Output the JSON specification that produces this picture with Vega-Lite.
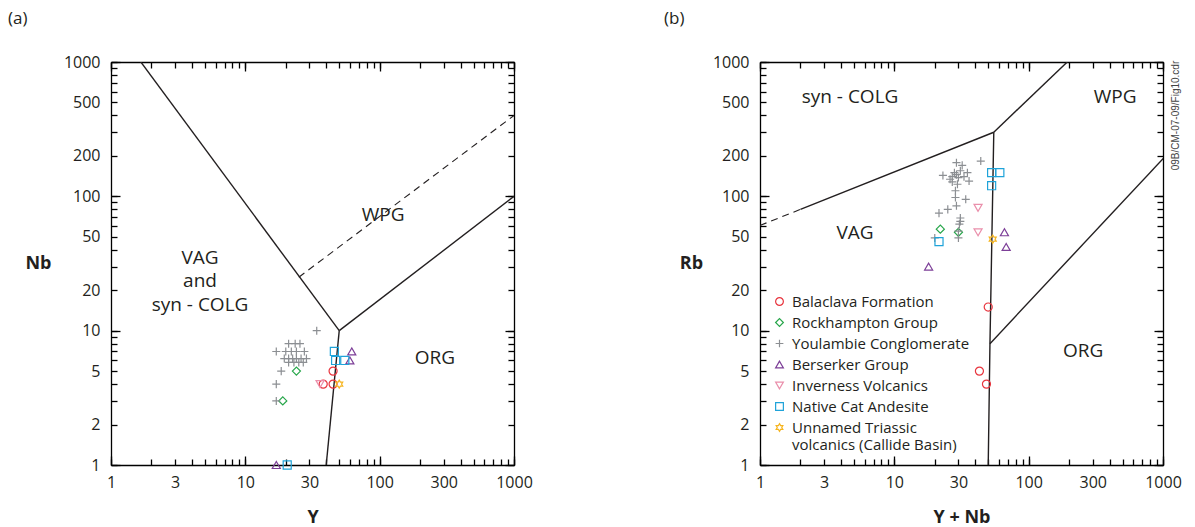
{
  "$schema": "https://vega.github.io/schema/vega-lite/v6.json",
  "background": "white",
  "padding": {"left": 8, "top": 10, "right": 0, "bottom": 0},
  "spacing": 131,
  "datasets": {
    "linesA": [
      {"seg": "a1", "x": 1, "y": 2000}, {"seg": "a1", "x": 50, "y": 10},
      {"seg": "a2", "x": 50, "y": 10}, {"seg": "a2", "x": 1000, "y": 100},
      {"seg": "a3", "x": 40, "y": 1}, {"seg": "a3", "x": 50, "y": 10}
    ],
    "dashA": [{"seg": "d", "x": 25, "y": 25}, {"seg": "d", "x": 1000, "y": 400}],
    "linesB": [
      {"seg": "b1", "x": 2, "y": 80}, {"seg": "b1", "x": 55, "y": 300},
      {"seg": "b2", "x": 55, "y": 300}, {"seg": "b2", "x": 400, "y": 2000},
      {"seg": "b3", "x": 50, "y": 1}, {"seg": "b3", "x": 51.5, "y": 8}, {"seg": "b3", "x": 55, "y": 300},
      {"seg": "b4", "x": 51.5, "y": 8}, {"seg": "b4", "x": 2000, "y": 400}
    ],
    "dashB": [{"seg": "d", "x": 1, "y": 60.7}, {"seg": "d", "x": 2, "y": 80}],
    "ptsA": [
      {"group": "Balaclava Formation", "x": 45, "y": 5},
      {"group": "Balaclava Formation", "x": 45, "y": 4},
      {"group": "Balaclava Formation", "x": 38, "y": 4},
      {"group": "Rockhampton Group", "x": 24, "y": 5},
      {"group": "Rockhampton Group", "x": 19, "y": 3},
      {"group": "Youlambie Conglomerate", "x": 34, "y": 10},
      {"group": "Youlambie Conglomerate", "x": 21, "y": 8},
      {"group": "Youlambie Conglomerate", "x": 23.5, "y": 8},
      {"group": "Youlambie Conglomerate", "x": 25.5, "y": 8},
      {"group": "Youlambie Conglomerate", "x": 17, "y": 7},
      {"group": "Youlambie Conglomerate", "x": 20, "y": 7},
      {"group": "Youlambie Conglomerate", "x": 22, "y": 7},
      {"group": "Youlambie Conglomerate", "x": 24, "y": 7},
      {"group": "Youlambie Conglomerate", "x": 27.5, "y": 7},
      {"group": "Youlambie Conglomerate", "x": 19.5, "y": 6.2},
      {"group": "Youlambie Conglomerate", "x": 21, "y": 6.2},
      {"group": "Youlambie Conglomerate", "x": 22.5, "y": 6.2},
      {"group": "Youlambie Conglomerate", "x": 24, "y": 6.2},
      {"group": "Youlambie Conglomerate", "x": 26, "y": 6.2},
      {"group": "Youlambie Conglomerate", "x": 28.5, "y": 6.2},
      {"group": "Youlambie Conglomerate", "x": 21, "y": 5.8},
      {"group": "Youlambie Conglomerate", "x": 23, "y": 5.8},
      {"group": "Youlambie Conglomerate", "x": 25, "y": 5.8},
      {"group": "Youlambie Conglomerate", "x": 27, "y": 5.8},
      {"group": "Youlambie Conglomerate", "x": 18.5, "y": 5},
      {"group": "Youlambie Conglomerate", "x": 17, "y": 4},
      {"group": "Youlambie Conglomerate", "x": 17, "y": 3},
      {"group": "Berserker Group", "x": 62, "y": 7},
      {"group": "Berserker Group", "x": 60, "y": 6},
      {"group": "Berserker Group", "x": 17, "y": 1},
      {"group": "Inverness Volcanics", "x": 36, "y": 4},
      {"group": "Native Cat Andesite", "x": 46, "y": 7},
      {"group": "Native Cat Andesite", "x": 47, "y": 6},
      {"group": "Native Cat Andesite", "x": 55, "y": 6},
      {"group": "Native Cat Andesite", "x": 20.5, "y": 1},
      {"group": "Unnamed Triassic volcanics (Callide Basin)", "x": 50, "y": 4}
    ],
    "ptsB": [
      {"group": "Balaclava Formation", "x": 50, "y": 15},
      {"group": "Balaclava Formation", "x": 43, "y": 5},
      {"group": "Balaclava Formation", "x": 48.5, "y": 4},
      {"group": "Rockhampton Group", "x": 22, "y": 57},
      {"group": "Rockhampton Group", "x": 30, "y": 54},
      {"group": "Youlambie Conglomerate", "x": 44, "y": 183},
      {"group": "Youlambie Conglomerate", "x": 29, "y": 178},
      {"group": "Youlambie Conglomerate", "x": 32, "y": 170},
      {"group": "Youlambie Conglomerate", "x": 28, "y": 150},
      {"group": "Youlambie Conglomerate", "x": 23, "y": 143},
      {"group": "Youlambie Conglomerate", "x": 35, "y": 150},
      {"group": "Youlambie Conglomerate", "x": 30, "y": 138},
      {"group": "Youlambie Conglomerate", "x": 36, "y": 130},
      {"group": "Youlambie Conglomerate", "x": 26, "y": 134},
      {"group": "Youlambie Conglomerate", "x": 27, "y": 140},
      {"group": "Youlambie Conglomerate", "x": 29, "y": 145},
      {"group": "Youlambie Conglomerate", "x": 31, "y": 155},
      {"group": "Youlambie Conglomerate", "x": 33, "y": 140},
      {"group": "Youlambie Conglomerate", "x": 27, "y": 128},
      {"group": "Youlambie Conglomerate", "x": 29.5, "y": 123},
      {"group": "Youlambie Conglomerate", "x": 28.5, "y": 110},
      {"group": "Youlambie Conglomerate", "x": 28.5, "y": 98},
      {"group": "Youlambie Conglomerate", "x": 34, "y": 95},
      {"group": "Youlambie Conglomerate", "x": 29, "y": 85},
      {"group": "Youlambie Conglomerate", "x": 25, "y": 80},
      {"group": "Youlambie Conglomerate", "x": 21.5, "y": 75},
      {"group": "Youlambie Conglomerate", "x": 31, "y": 69},
      {"group": "Youlambie Conglomerate", "x": 31, "y": 65},
      {"group": "Youlambie Conglomerate", "x": 30.5, "y": 62},
      {"group": "Youlambie Conglomerate", "x": 30, "y": 55},
      {"group": "Youlambie Conglomerate", "x": 30, "y": 49},
      {"group": "Youlambie Conglomerate", "x": 20, "y": 49},
      {"group": "Berserker Group", "x": 66, "y": 54},
      {"group": "Berserker Group", "x": 68, "y": 42},
      {"group": "Berserker Group", "x": 18, "y": 30},
      {"group": "Inverness Volcanics", "x": 42, "y": 82},
      {"group": "Inverness Volcanics", "x": 42, "y": 54},
      {"group": "Native Cat Andesite", "x": 53, "y": 150},
      {"group": "Native Cat Andesite", "x": 61, "y": 150},
      {"group": "Native Cat Andesite", "x": 53, "y": 120},
      {"group": "Native Cat Andesite", "x": 21.5, "y": 46},
      {"group": "Unnamed Triassic volcanics (Callide Basin)", "x": 54, "y": 48}
    ],
    "labA": [
      {"label": "WPG", "x": 106, "y": 72.7},
      {"label": "VAG\nand\nsyn - COLG", "x": 4.6, "y": 34.8},
      {"label": "ORG", "x": 258, "y": 6.26}
    ],
    "labB": [
      {"label": "syn - COLG", "x": 4.68, "y": 550},
      {"label": "WPG", "x": 440, "y": 550},
      {"label": "VAG", "x": 5.1, "y": 53.4},
      {"label": "ORG", "x": 254, "y": 7.06}
    ]
  },
  "resolve": {
    "scale": {"color": "independent", "shape": "independent"},
    "legend": {"color": "independent", "shape": "independent"}
  },
  "hconcat": [
    {
      "width": 403,
      "height": 403,
      "title": {"text": "(a)", "anchor": "start", "frame": "group", "dx": -103, "offset": 26, "fontSize": 17, "fontWeight": "normal", "font": "Open Sans", "color": "#231f20"},
      "resolve": {"axis": {"x": "independent", "y": "independent"}},
      "layer": [
        {
          "data": {"name": "linesA"},
          "mark": {"type": "line", "color": "#231f20", "strokeWidth": 1.4, "clip": true},
          "encoding": {
            "detail": {"field": "seg"},
            "x": {"field": "x", "type": "quantitative", "scale": {"type": "log", "domain": [1, 1000], "nice": false},
              "axis": {"orient": "bottom", "values": [1,2,3,4,5,6,7,8,9,10,20,30,40,50,60,70,80,90,100,200,300,400,500,600,700,800,900,1000], "ticks": true, "tickSize": -6, "tickColor": "black", "tickWidth": 1.3, "format": "d", "labelExpr": "indexof([1,3,10,30,100,300,1000], datum.value) >= 0 ? datum.label : ''", "labelOverlap": false, "labelFlush": false, "labelPadding": 15, "title": "Y", "titleY": 52, "titleBaseline": "middle"}},
            "y": {"field": "y", "type": "quantitative", "scale": {"type": "log", "domain": [1, 1000], "nice": false},
              "axis": {"orient": "left", "values": [1,2,3,4,5,6,7,8,9,10,20,30,40,50,60,70,80,90,100,200,300,400,500,600,700,800,900,1000], "ticks": true, "tickSize": -6, "tickColor": "black", "tickWidth": 1.3, "format": "d", "labelExpr": "indexof([1,2,5,10,20,50,100,200,500,1000], datum.value) >= 0 ? datum.label : ''", "labelOverlap": false, "labelFlush": false, "labelPadding": 17, "title": "Nb", "titleAngle": 0, "titleX": -73, "titleY": 201, "titleAlign": "center", "titleBaseline": "middle"}}
          }
        },
        {
          "data": {"name": "dashA"},
          "mark": {"type": "line", "color": "#231f20", "strokeWidth": 1.1, "strokeDash": [7, 5], "clip": true},
          "encoding": {
            "x": {"field": "x", "type": "quantitative", "scale": {"type": "log", "domain": [1, 1000], "nice": false},
              "axis": {"orient": "bottom", "values": [1, 10, 100, 1000], "ticks": true, "tickSize": -9, "tickColor": "black", "tickWidth": 1.3, "labels": false, "domain": false, "title": null}},
            "y": {"field": "y", "type": "quantitative", "scale": {"type": "log", "domain": [1, 1000], "nice": false},
              "axis": {"orient": "left", "values": [1, 10, 100, 1000], "ticks": true, "tickSize": -9, "tickColor": "black", "tickWidth": 1.3, "labels": false, "domain": false, "title": null}}
          }
        },
        {
          "data": {"name": "labA"},
          "mark": {"type": "text", "font": "Open Sans", "fontSize": 19, "color": "#231f20", "lineBreak": "\n", "lineHeight": 23.5, "align": "center", "baseline": "middle"},
          "encoding": {
            "text": {"field": "label"},
            "x": {"field": "x", "type": "quantitative", "scale": {"type": "log", "domain": [1, 1000], "nice": false},
              "axis": {"orient": "top", "values": [1, 10, 100, 1000], "ticks": true, "tickSize": -9, "tickColor": "black", "tickWidth": 1.3, "labels": false, "domain": false, "title": null}},
            "y": {"field": "y", "type": "quantitative", "scale": {"type": "log", "domain": [1, 1000], "nice": false},
              "axis": {"orient": "right", "values": [1, 10, 100, 1000], "ticks": true, "tickSize": -9, "tickColor": "black", "tickWidth": 1.3, "labels": false, "domain": false, "title": null}}
          }
        },
        {
          "data": {"name": "ptsA"},
          "mark": {"type": "point", "filled": false, "strokeWidth": 1.2, "size": 65, "opacity": 1},
          "encoding": {
            "x": {"field": "x", "type": "quantitative", "scale": {"type": "log", "domain": [1, 1000], "nice": false},
              "axis": {"orient": "top", "values": [1,2,3,4,5,6,7,8,9,10,20,30,40,50,60,70,80,90,100,200,300,400,500,600,700,800,900,1000], "ticks": true, "tickSize": -6, "tickColor": "black", "tickWidth": 1.3, "labels": false, "title": null}},
            "y": {"field": "y", "type": "quantitative", "scale": {"type": "log", "domain": [1, 1000], "nice": false},
              "axis": {"orient": "right", "values": [1,2,3,4,5,6,7,8,9,10,20,30,40,50,60,70,80,90,100,200,300,400,500,600,700,800,900,1000], "ticks": true, "tickSize": -6, "tickColor": "black", "tickWidth": 1.3, "labels": false, "title": null}},
            "color": {"field": "group", "type": "nominal", "legend": null,
              "scale": {"domain": ["Balaclava Formation", "Rockhampton Group", "Youlambie Conglomerate", "Berserker Group", "Inverness Volcanics", "Native Cat Andesite", "Unnamed Triassic volcanics (Callide Basin)"],
                "range": ["#e8353e", "#27a64a", "#8c8f93", "#7d3f98", "#ea8fab", "#1fa3d9", "#f6b520"]}},
            "shape": {"field": "group", "type": "nominal", "legend": null,
              "scale": {"domain": ["Balaclava Formation", "Rockhampton Group", "Youlambie Conglomerate", "Berserker Group", "Inverness Volcanics", "Native Cat Andesite", "Unnamed Triassic volcanics (Callide Basin)"],
                "range": ["circle", "diamond", "M-1,0H1M0,-1V1", "triangle-up", "triangle-down", "square", "M0,-1L0.289,-0.5L0.866,-0.5L0.577,0L0.866,0.5L0.289,0.5L0,1L-0.289,0.5L-0.866,0.5L-0.577,0L-0.866,-0.5L-0.289,-0.5Z"]}}
          }
        }
      ]
    },
    {
      "width": 403,
      "height": 403,
      "title": {"text": "(b)", "anchor": "start", "frame": "group", "dx": -96, "offset": 26, "fontSize": 17, "fontWeight": "normal", "font": "Open Sans", "color": "#231f20"},
      "resolve": {"axis": {"x": "independent", "y": "independent"}},
      "layer": [
        {
          "data": {"name": "linesB"},
          "mark": {"type": "line", "color": "#231f20", "strokeWidth": 1.4, "clip": true},
          "encoding": {
            "detail": {"field": "seg"},
            "x": {"field": "x", "type": "quantitative", "scale": {"type": "log", "domain": [1, 1000], "nice": false},
              "axis": {"orient": "bottom", "values": [1,2,3,4,5,6,7,8,9,10,20,30,40,50,60,70,80,90,100,200,300,400,500,600,700,800,900,1000], "ticks": true, "tickSize": -6, "tickColor": "black", "tickWidth": 1.3, "format": "d", "labelExpr": "indexof([1,3,10,30,100,300,1000], datum.value) >= 0 ? datum.label : ''", "labelOverlap": false, "labelFlush": false, "labelPadding": 15, "title": "Y + Nb", "titleY": 52, "titleBaseline": "middle"}},
            "y": {"field": "y", "type": "quantitative", "scale": {"type": "log", "domain": [1, 1000], "nice": false},
              "axis": {"orient": "left", "values": [1,2,3,4,5,6,7,8,9,10,20,30,40,50,60,70,80,90,100,200,300,400,500,600,700,800,900,1000], "ticks": true, "tickSize": -6, "tickColor": "black", "tickWidth": 1.3, "format": "d", "labelExpr": "indexof([1,2,5,10,20,50,100,200,500,1000], datum.value) >= 0 ? datum.label : ''", "labelOverlap": false, "labelFlush": false, "labelPadding": 17, "title": "Rb", "titleAngle": 0, "titleX": -69, "titleY": 201, "titleAlign": "center", "titleBaseline": "middle"}}
          }
        },
        {
          "data": {"name": "dashB"},
          "mark": {"type": "line", "color": "#231f20", "strokeWidth": 1.1, "strokeDash": [7, 5], "clip": true},
          "encoding": {
            "x": {"field": "x", "type": "quantitative", "scale": {"type": "log", "domain": [1, 1000], "nice": false},
              "axis": {"orient": "bottom", "values": [1, 10, 100, 1000], "ticks": true, "tickSize": -9, "tickColor": "black", "tickWidth": 1.3, "labels": false, "domain": false, "title": null}},
            "y": {"field": "y", "type": "quantitative", "scale": {"type": "log", "domain": [1, 1000], "nice": false},
              "axis": {"orient": "left", "values": [1, 10, 100, 1000], "ticks": true, "tickSize": -9, "tickColor": "black", "tickWidth": 1.3, "labels": false, "domain": false, "title": null}}
          }
        },
        {
          "data": {"name": "labB"},
          "mark": {"type": "text", "font": "Open Sans", "fontSize": 19, "color": "#231f20", "align": "center", "baseline": "middle"},
          "encoding": {
            "text": {"field": "label"},
            "x": {"field": "x", "type": "quantitative", "scale": {"type": "log", "domain": [1, 1000], "nice": false},
              "axis": {"orient": "top", "values": [1, 10, 100, 1000], "ticks": true, "tickSize": -9, "tickColor": "black", "tickWidth": 1.3, "labels": false, "domain": false, "title": null}},
            "y": {"field": "y", "type": "quantitative", "scale": {"type": "log", "domain": [1, 1000], "nice": false},
              "axis": {"orient": "right", "values": [1, 10, 100, 1000], "ticks": true, "tickSize": -9, "tickColor": "black", "tickWidth": 1.3, "labels": false, "domain": false,
                "title": "09B/CM-07-09/Fig10.cdr", "titleAngle": 270, "titleX": 12, "titleY": 53, "titleAlign": "center", "titleBaseline": "middle", "titleFont": "Liberation Sans", "titleFontSize": 10, "titleFontWeight": "normal", "titleColor": "#444444"}}
          }
        },
        {
          "data": {"name": "ptsB"},
          "mark": {"type": "point", "filled": false, "strokeWidth": 1.2, "size": 65, "opacity": 1},
          "encoding": {
            "x": {"field": "x", "type": "quantitative", "scale": {"type": "log", "domain": [1, 1000], "nice": false},
              "axis": {"orient": "top", "values": [1,2,3,4,5,6,7,8,9,10,20,30,40,50,60,70,80,90,100,200,300,400,500,600,700,800,900,1000], "ticks": true, "tickSize": -6, "tickColor": "black", "tickWidth": 1.3, "labels": false, "title": null}},
            "y": {"field": "y", "type": "quantitative", "scale": {"type": "log", "domain": [1, 1000], "nice": false},
              "axis": {"orient": "right", "values": [1,2,3,4,5,6,7,8,9,10,20,30,40,50,60,70,80,90,100,200,300,400,500,600,700,800,900,1000], "ticks": true, "tickSize": -6, "tickColor": "black", "tickWidth": 1.3, "labels": false, "title": null}},
            "color": {"field": "group", "type": "nominal",
              "legend": {"orient": "none", "legendX": 12, "legendY": 232, "title": null, "padding": 0, "labelFont": "Open Sans", "labelFontSize": 15, "labelColor": "#231f20", "labelLimit": 300, "symbolSize": 60, "symbolStrokeWidth": 1.2, "rowPadding": 5, "labelOffset": 5,
                "labelExpr": "datum.label == 'Unnamed Triassic volcanics (Callide Basin)' ? ['Unnamed Triassic', 'volcanics (Callide Basin)'] : datum.label"},
              "scale": {"domain": ["Balaclava Formation", "Rockhampton Group", "Youlambie Conglomerate", "Berserker Group", "Inverness Volcanics", "Native Cat Andesite", "Unnamed Triassic volcanics (Callide Basin)"],
                "range": ["#e8353e", "#27a64a", "#8c8f93", "#7d3f98", "#ea8fab", "#1fa3d9", "#f6b520"]}},
            "shape": {"field": "group", "type": "nominal",
              "legend": {"orient": "none", "legendX": 12, "legendY": 232, "title": null, "padding": 0, "labelFont": "Open Sans", "labelFontSize": 15, "labelColor": "#231f20", "labelLimit": 300, "symbolSize": 60, "symbolStrokeWidth": 1.2, "rowPadding": 5, "labelOffset": 5,
                "labelExpr": "datum.label == 'Unnamed Triassic volcanics (Callide Basin)' ? ['Unnamed Triassic', 'volcanics (Callide Basin)'] : datum.label"},
              "scale": {"domain": ["Balaclava Formation", "Rockhampton Group", "Youlambie Conglomerate", "Berserker Group", "Inverness Volcanics", "Native Cat Andesite", "Unnamed Triassic volcanics (Callide Basin)"],
                "range": ["circle", "diamond", "M-1,0H1M0,-1V1", "triangle-up", "triangle-down", "square", "M0,-1L0.289,-0.5L0.866,-0.5L0.577,0L0.866,0.5L0.289,0.5L0,1L-0.289,0.5L-0.866,0.5L-0.577,0L-0.866,-0.5L-0.289,-0.5Z"]}}
          }
        }
      ]
    }
  ],
  "config": {
    "view": {"stroke": null},
    "axis": {"grid": false, "domainColor": "black", "tickColor": "black", "domainWidth": 1.3, "tickWidth": 1.3,
      "labelFont": "Open Sans", "labelFontSize": 16, "labelColor": "#231f20",
      "titleFont": "Open Sans", "titleFontSize": 18, "titleFontWeight": "bold", "titleColor": "#231f20"}
  }
}
